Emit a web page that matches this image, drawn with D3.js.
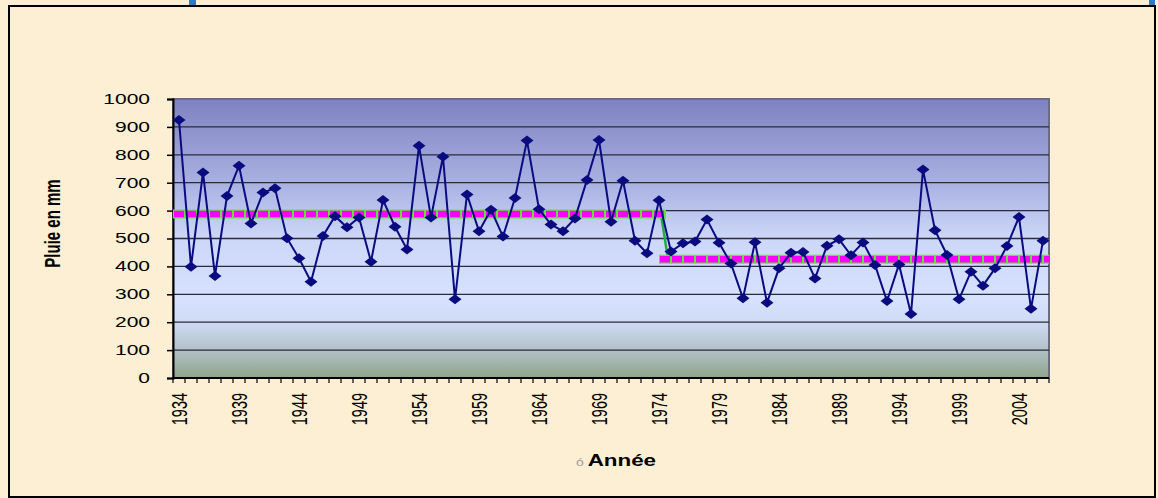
<!DOCTYPE html>
<html>
<head>
<meta charset="utf-8">
<script src="https://d3js.org/d3.v7.min.js"></script>
<style>
  body { margin: 0; background: #fcefd4; }
  svg { display: block; font-family: "Liberation Sans", Arial, sans-serif; }
</style>
</head>
<body>
<svg id="chart"></svg>
<script>
// rainfall per year (mm)
const years = d3.range(1934, 2007);
const rain = [
  925, 399, 737, 366, 652, 761, 554, 665, 680, 501,
  429, 345, 509, 580, 540, 575, 417, 638, 542, 461,
  832, 575, 793, 282, 658, 526, 603, 507, 645, 851,
  605, 550, 526, 572, 710, 853, 560, 707, 492, 447,
  637, 453, 483, 489, 568, 485, 410, 286, 487, 270,
  393, 449, 452, 357, 474, 497, 440, 486, 405, 276,
  407, 229, 747, 530, 441, 282, 381, 331, 393, 473,
  577, 248, 492
];
// mean of each period
const periods = [
  { from: 1934, to: 1974, mean: 588 },
  { from: 1975, to: 2006, mean: 426 }
];
const yTicks = [0, 100, 200, 300, 400, 500, 600, 700, 800, 900, 1000];

const width = 1158, height = 498;
const margin = { top: 99, right: 109, bottom: 120, left: 173 };
const innerW = width - margin.left - margin.right;
const innerH = height - margin.top - margin.bottom;
// the original picture is stretched sideways, text included
const stretch = 1.5;

const svg = d3.select("#chart").attr("width", width).attr("height", height);

// page background + frame
svg.append("rect").attr("width", width).attr("height", height).attr("fill", "#fcefd4");
svg.append("rect").attr("x", 189).attr("y", 0).attr("width", 7).attr("height", 6).attr("fill", "#2a7cc8");
svg.append("rect").attr("x", 1149).attr("y", 0).attr("width", 6).attr("height", 6).attr("fill", "#2a7cc8");
svg.append("rect")
  .attr("x", 9).attr("y", 6).attr("width", 1146).attr("height", 491)
  .attr("fill", "none").attr("stroke", "#000").attr("stroke-width", 2);

const defs = svg.append("defs");
const grad = defs.append("linearGradient").attr("id", "plotbg")
  .attr("x1", 0).attr("y1", 0).attr("x2", 0).attr("y2", 1);
[["0%", "#7e82c0"], ["30%", "#a9b1e2"], ["50%", "#cdd7f8"], ["72%", "#d6e2fe"],
 ["80%", "#cfdbf4"], ["90%", "#b2c1c8"], ["100%", "#8ea589"]]
  .forEach(s => grad.append("stop").attr("offset", s[0]).attr("stop-color", s[1]));

const g = svg.append("g").attr("transform", `translate(${margin.left},${margin.top})`);

const x = d3.scaleBand().domain(years).range([0, innerW]);
const y = d3.scaleLinear().domain([0, 1000]).range([innerH, 0]);
const cx = d => x(d) + x.bandwidth() / 2;

g.append("rect").attr("width", innerW).attr("height", innerH)
  .attr("fill", "url(#plotbg)").attr("stroke", "#6c6c7c").attr("stroke-width", 2);

// gridlines
g.selectAll("line.grid").data(yTicks.filter(v => v > 0 && v < 1000))
  .join("line").attr("class", "grid")
  .attr("x1", 0).attr("x2", innerW)
  .attr("y1", d => y(d)).attr("y2", d => y(d))
  .attr("stroke", "#2a2a38").attr("stroke-width", 1.3);

// y axis
const yAxis = g.append("g")
  .call(d3.axisLeft(y).tickValues(yTicks).tickFormat(d3.format("d")).tickSize(6).tickPadding(17));
yAxis.select(".domain").attr("stroke", "#000").attr("stroke-width", 2);
yAxis.selectAll(".tick line").attr("stroke", "#000").attr("stroke-width", 1.5);
yAxis.selectAll("text")
  .attr("font-size", 14).attr("fill", "#000")
  .attr("textLength", d => String(d).length * 14 * 0.556 * stretch)
  .attr("lengthAdjust", "spacingAndGlyphs");

// x axis: ticks on category boundaries
const xAxis = g.append("g").attr("transform", `translate(0,${innerH})`);
xAxis.append("line").attr("x1", 0).attr("x2", innerW).attr("stroke", "#000").attr("stroke-width", 2);
xAxis.selectAll("line.tk").data(d3.range(years.length + 1))
  .join("line").attr("class", "tk")
  .attr("x1", i => i * x.step()).attr("x2", i => i * x.step())
  .attr("y1", 0).attr("y2", 5).attr("stroke", "#000").attr("stroke-width", 1.2);
xAxis.selectAll("text").data(years.filter(yr => (yr - 1934) % 5 === 0))
  .join("text")
  .attr("transform", d => `translate(${cx(d)},15) scale(${stretch},1) rotate(-90)`)
  .attr("text-anchor", "end").attr("dy", "0.36em")
  .attr("font-size", 14.5).attr("fill", "#000")
  .text(d => d);

// period means: green connector, then banded dashes
const meanSeries = years.map(yr => periods.find(p => yr >= p.from && yr <= p.to).mean);
const jump = years.indexOf(1974);
g.append("line")
  .attr("x1", cx(1974) + 2).attr("y1", y(meanSeries[jump]))
  .attr("x2", cx(1975) - 3).attr("y2", y(meanSeries[jump + 1]))
  .attr("stroke", "#22aa44").attr("stroke-width", 2.5);

periods.forEach((p, i) => {
  const x0 = i === 0 ? 0 : x(p.from) - 6;
  const x1 = i === 0 ? x(p.to) + x.bandwidth() + 1 : innerW;
  g.append("line").attr("x1", x0).attr("x2", x1)
    .attr("y1", y(p.mean)).attr("y2", y(p.mean))
    .attr("stroke", "#66e040").attr("stroke-width", 9);
  g.append("line").attr("x1", x0 + 1).attr("x2", x1)
    .attr("y1", y(p.mean)).attr("y2", y(p.mean))
    .attr("stroke", "#ff00ff").attr("stroke-width", 6.5)
    .attr("stroke-dasharray", "10 2");
});

// rainfall series
g.append("path").datum(rain)
  .attr("fill", "none").attr("stroke", "#0b0b80").attr("stroke-width", 2)
  .attr("d", d3.line().x((d, i) => cx(years[i])).y(d => y(d)));

g.selectAll("path.mk").data(rain)
  .join("path").attr("class", "mk")
  .attr("transform", (d, i) => `translate(${cx(years[i])},${y(d)})`)
  .attr("d", "M0,-5 L6.5,0 L0,5 L-6.5,0 Z")
  .attr("fill", "#0b0b80");

// axis titles
svg.append("text")
  .attr("transform", `translate(52,${margin.top + innerH / 2 - 15}) scale(${stretch},1) rotate(-90)`)
  .attr("text-anchor", "middle").attr("dy", "0.35em")
  .attr("font-size", 15).attr("font-weight", "bold")
  .text("Pluie en mm");

const xt = svg.append("text")
  .attr("transform", `translate(${margin.left + innerW / 2 + 5},466) scale(1.4,1)`)
  .attr("text-anchor", "middle").attr("font-size", 16).attr("font-weight", "bold");
xt.append("tspan").attr("font-weight", "normal").attr("font-size", 10).attr("fill", "#999").text("ó ");
xt.append("tspan").text("Année");
</script>
</body>
</html>
